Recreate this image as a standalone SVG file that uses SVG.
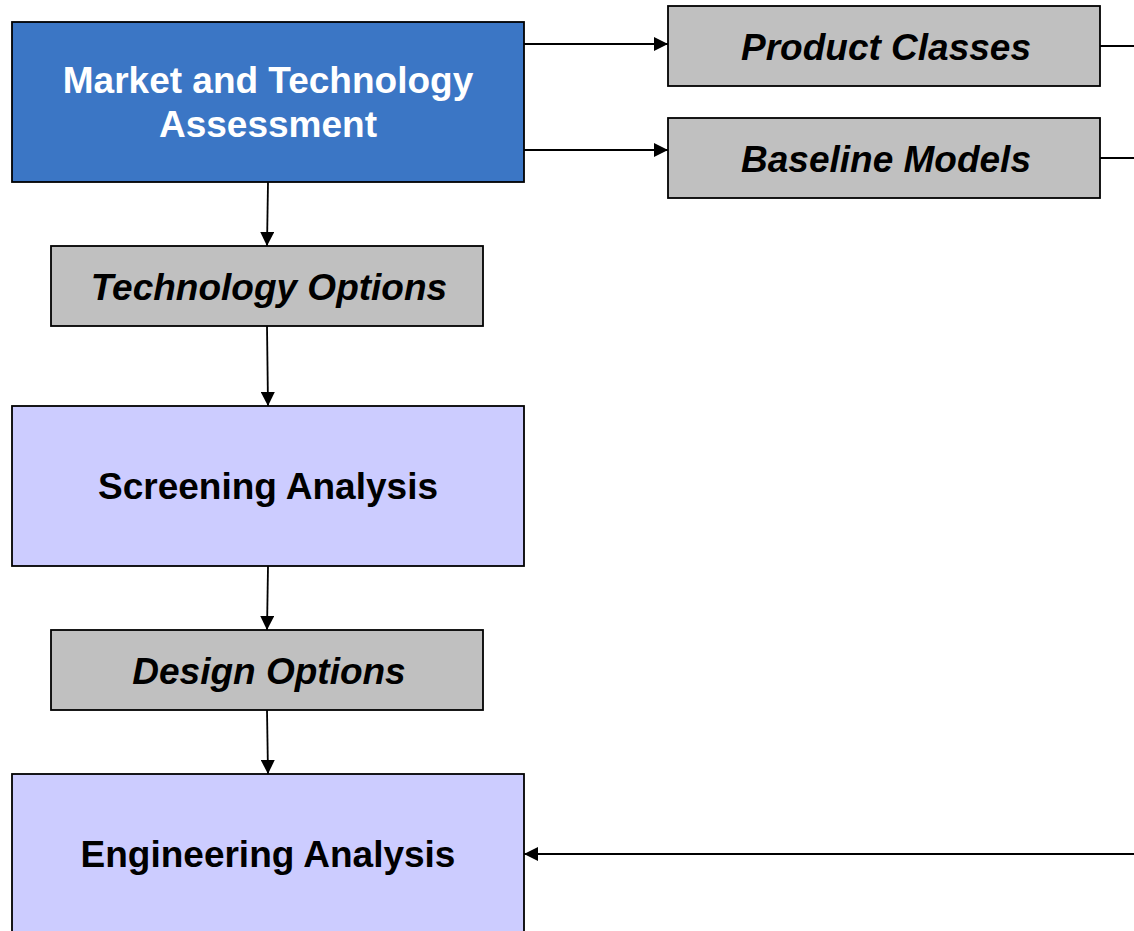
<svg xmlns="http://www.w3.org/2000/svg" width="1134" height="931" viewBox="0 0 1134 931">
<defs>
<marker id="ah" markerWidth="14" markerHeight="14" refX="14" refY="7" orient="auto" markerUnits="userSpaceOnUse">
<path d="M0,0 L14,7 L0,14 Z" fill="#000"/>
</marker>
<style>
.box{stroke:#000;stroke-width:1.8}
.blue{fill:#3b76c5}
.lav{fill:#ccccff}
.grey{fill:#c0c0c0}
.t{font-family:"Liberation Sans",Arial,sans-serif;font-weight:bold;font-size:37px;text-anchor:middle}
.i{font-style:italic;font-size:37px}
.w{fill:#fff}
.c{stroke:#000;stroke-width:1.8;fill:none}
</style>
</defs>
<rect width="1134" height="931" fill="#fff"/>
<g id="connectors">
<line class="c" x1="524" y1="44" x2="668" y2="44" marker-end="url(#ah)"/>
<line class="c" x1="524" y1="150" x2="668" y2="150" marker-end="url(#ah)"/>
<line class="c" x1="1100" y1="46" x2="1134" y2="46"/>
<line class="c" x1="1100" y1="158" x2="1134" y2="158"/>
<line class="c" x1="268" y1="182" x2="267" y2="246" marker-end="url(#ah)"/>
<line class="c" x1="267" y1="326" x2="268" y2="406" marker-end="url(#ah)"/>
<line class="c" x1="268" y1="566" x2="267" y2="630" marker-end="url(#ah)"/>
<line class="c" x1="267" y1="710" x2="268" y2="774" marker-end="url(#ah)"/>
<line class="c" x1="1134" y1="854" x2="524" y2="854" marker-end="url(#ah)"/>
</g>
<g id="market">
<rect class="box blue" x="12" y="22" width="512" height="160"/>
<text class="t w" x="268" y="93">Market and Technology</text>
<text class="t w" x="268" y="137">Assessment</text>
</g>
<g id="product-classes">
<rect class="box grey" x="668" y="6" width="432" height="80"/>
<text class="t i" x="886" y="60">Product Classes</text>
</g>
<g id="baseline-models">
<rect class="box grey" x="668" y="118" width="432" height="80"/>
<text class="t i" x="886" y="172">Baseline Models</text>
</g>
<g id="technology-options">
<rect class="box grey" x="51" y="246" width="432" height="80"/>
<text class="t i" x="269" y="300">Technology Options</text>
</g>
<g id="screening">
<rect class="box lav" x="12" y="406" width="512" height="160"/>
<text class="t" x="268" y="499">Screening Analysis</text>
</g>
<g id="design-options">
<rect class="box grey" x="51" y="630" width="432" height="80"/>
<text class="t i" x="269" y="684">Design Options</text>
</g>
<g id="engineering">
<rect class="box lav" x="12" y="774" width="512" height="170"/>
<text class="t" x="268" y="867">Engineering Analysis</text>
</g>
</svg>
